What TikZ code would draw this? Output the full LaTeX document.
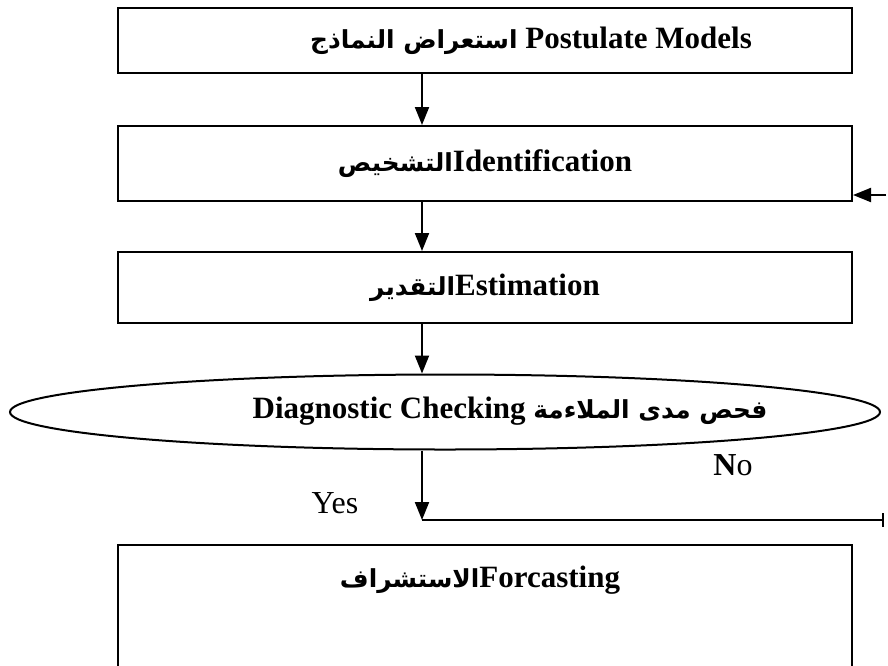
\documentclass[tikz,border=0pt]{standalone}
\usepackage{fontspec}
\setmainfont{Liberation Serif}
\newfontfamily\arfont[Script=Arabic,Scale=0.8]{DejaVu Sans}
\TeXXeTstate=1
\usetikzlibrary{arrows.meta,shapes.geometric}

\tikzset{
  stage/.style={draw, line width=2pt, minimum width=734pt, inner sep=0pt,
    font=\bfseries\fontsize{31}{34}\selectfont},
  stagetext/.style={font=\bfseries\fontsize{31}{34}\selectfont},
  flow/.style={line width=2pt, -{Triangle[length=18pt,width=14pt]}},
  branch/.style={font=\fontsize{32}{36}\selectfont}
}

\begin{document}
\begin{tikzpicture}[x=1pt,y=-1pt]
    \useasboundingbox (0,0) rectangle (888,665);
    \clip (0,0) rectangle (888,665);
    \coordinate (spine) at (422,0);

    % stages
    \node[stage, minimum height=65pt] (models) at (485,40.5) {};
    \node[stagetext] (modelstext) at (531,41) {{\arfont\beginR استعراض النماذج\endR} Postulate Models};
    \node[stage, minimum height=75pt] (ident) at (485,163.5) {{\arfont\beginR التشخيص\endR}Identification};
    \node[stage, minimum height=71pt] (estim) at (485,287.5) {{\arfont\beginR التقدير\endR}Estimation};
    \node[draw, ellipse, line width=2pt, minimum width=870pt, minimum height=75pt, inner sep=0pt] (check) at (445,412) {};
    \node[stagetext] (checktext) at (510,411) {Diagnostic Checking {\arfont\beginR فحص مدى الملاءمة\endR}};
    \node[stage, minimum height=134pt] (fore) at (485,612) {};
    \node[stagetext] (foretext) at (480,580) {{\arfont\beginR الاستشراف\endR}Forcasting};

    % arrows
    \draw[flow] (models.south -| spine) -- (ident.north -| spine);
    \draw[flow] (ident.south -| spine) -- (estim.north -| spine);
    \draw[flow] (estim.south -| spine) -- (check.north -| spine);

    % yes / no
    \coordinate (split) at (422,520);
    \coordinate (loopend) at (884,520);
    \coordinate (loopin) at (886,195);
    \draw[flow] (check.south -| spine) -- (split);
    \draw[line width=2pt, -{Bar[width=14pt]}] (split) -- (loopend);
    \draw[flow] (loopin) -- (ident.east |- loopin);
    \node[branch] (yes) at (335,503) {Yes};
    \node[branch] (no) at (733,465) {\textbf{N}o};
  \end{tikzpicture}
\end{document}
